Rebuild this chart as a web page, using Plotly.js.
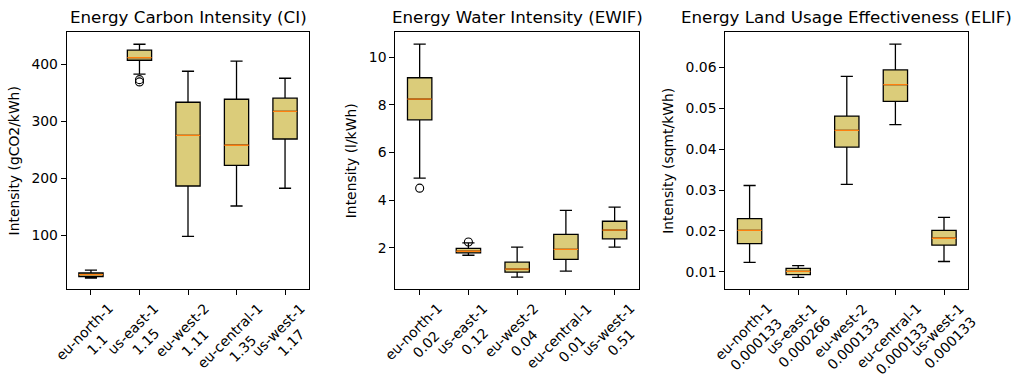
<!DOCTYPE html>
<html>
<head>
<meta charset="utf-8">
<script src="https://cdn.plot.ly/plotly-3.0.1.min.js"></script>
<style>html,body{margin:0;padding:0;background:#fff;}#chart{width:1021px;height:390px;}</style>
</head>
<body>
<div id="chart"></div>
<script>
// ---- data ----
const regions = ['eu-north-1', 'us-east-1', 'eu-west-2', 'eu-central-1', 'us-west-1'];
const ciFactors = ['1.1', '1.15', '1.11', '1.35', '1.17'];
const ewifFactors = ['0.02', '0.12', '0.04', '0.01', '0.51'];
const elifFactors = ['0.000133', '0.000266', '0.000133', '0.000133', '0.000133'];

const ciLower = [25.1, 382.5, 98.2, 151.4, 182.5];
const ciQ1 = [27.4, 407.0, 186.5, 222.8, 268.9];
const ciMedian = [30.9, 411.6, 275.4, 257.9, 317.5];
const ciQ3 = [33.9, 424.6, 333.3, 338.6, 340.4];
const ciUpper = [39.1, 435.0, 387.7, 405.3, 375.4];
const ciOutRegion = ['us-east-1', 'us-east-1'];
const ciOutValue = [373, 369];

const ewifLower = [4.92, 1.68, 0.76, 1.01, 2.02];
const ewifQ1 = [7.37, 1.78, 0.97, 1.51, 2.37];
const ewifMedian = [8.24, 1.85, 1.10, 1.93, 2.74];
const ewifQ3 = [9.14, 1.97, 1.39, 2.56, 3.11];
const ewifUpper = [10.55, 2.20, 2.02, 3.57, 3.70];
const ewifOutRegion = ['eu-north-1', 'us-east-1'];
const ewifOutValue = [4.50, 2.24];

const elifLower = [0.0123, 0.0086, 0.0314, 0.0460, 0.0125];
const elifQ1 = [0.0169, 0.0093, 0.0405, 0.0517, 0.0165];
const elifMedian = [0.0201, 0.0101, 0.0446, 0.0558, 0.0182];
const elifQ3 = [0.0230, 0.0108, 0.0481, 0.0594, 0.0201];
const elifUpper = [0.0311, 0.0115, 0.0578, 0.0657, 0.0233];
const elifOutRegion = [];
const elifOutValue = [];

// ---- build ----
const FONT = 'DejaVu Sans, sans-serif';
const BOXW = 0.5;
const pos = regions.map((_, i) => i + 1);
const posOf = r => regions.indexOf(r) + 1;

const panels = [
  {ax: '', title: 'Energy Carbon Intensity (CI)', ytitle: 'Intensity (gCO2/kWh)', factors: ciFactors,
   lo: ciLower, q1: ciQ1, med: ciMedian, q3: ciQ3, up: ciUpper, outR: ciOutRegion, outV: ciOutValue,
   range: [5.3, 456], tickvals: [100, 200, 300, 400], fmt: '', dom: [66.7, 309.3]},
  {ax: '2', title: 'Energy Water Intensity (EWIF)', ytitle: 'Intensity (l/kWh)', factors: ewifFactors,
   lo: ewifLower, q1: ewifQ1, med: ewifMedian, q3: ewifQ3, up: ewifUpper, outR: ewifOutRegion, outV: ewifOutValue,
   range: [0.25, 11.05], tickvals: [2, 4, 6, 8, 10], fmt: '', dom: [395.3, 639]},
  {ax: '3', title: 'Energy Land Usage Effectiveness (ELIF)', ytitle: 'Intensity (sqmt/kWh)', factors: elifFactors,
   lo: elifLower, q1: elifQ1, med: elifMedian, q3: elifQ3, up: elifUpper, outR: elifOutRegion, outV: elifOutValue,
   range: [0.0057, 0.0686], tickvals: [0.01, 0.02, 0.03, 0.04, 0.05, 0.06], fmt: '.2f', dom: [725.3, 968.3]}
];

const W = 1021, H = 390;
const yDom = [1 - 289.3 / H, 1 - 32.3 / H];
const traces = [];
const annotations = [];
const layout = {
  width: W, height: H,
  margin: {l: 0, r: 0, t: 0, b: 0},
  paper_bgcolor: '#ffffff', plot_bgcolor: '#ffffff',
  showlegend: false,
  font: {family: FONT, size: 13.9, color: '#000'},
  annotations: annotations
};

panels.forEach(p => {
  const xa = 'x' + p.ax, ya = 'y' + p.ax;
  traces.push({
    type: 'box', xaxis: xa, yaxis: ya,
    x: pos, q1: p.q1, median: p.med, q3: p.q3, lowerfence: p.lo, upperfence: p.up,
    width: BOXW, whiskerwidth: 0.5, boxpoints: false,
    fillcolor: '#dbcc7a', line: {color: '#000000', width: 1.3},
    hoverinfo: 'skip'
  });
  // orange median lines
  const mx = [], my = [];
  pos.forEach((x, i) => { mx.push(x - BOXW / 2, x + BOXW / 2, null); my.push(p.med[i], p.med[i], null); });
  traces.push({type: 'scatter', mode: 'lines', xaxis: xa, yaxis: ya, x: mx, y: my,
    line: {color: '#ff7f0e', width: 1.3}, hoverinfo: 'skip'});
  // outliers
  if (p.outV.length) {
    traces.push({type: 'scatter', mode: 'markers', xaxis: xa, yaxis: ya,
      x: p.outR.map(posOf), y: p.outV,
      marker: {symbol: 'circle-open', size: 8, color: '#000', line: {width: 1.1, color: '#000'}},
      hoverinfo: 'skip'});
  }
  layout['xaxis' + p.ax] = {
    domain: [p.dom[0] / W, p.dom[1] / W], anchor: ya, range: [0.5, 5.5],
    tickvals: pos, showticklabels: false, ticks: 'outside', ticklen: 5, tickwidth: 1, tickcolor: '#000',
    showline: true, mirror: true, linecolor: '#000', linewidth: 1, showgrid: false, zeroline: false
  };
  layout['yaxis' + p.ax] = {
    domain: yDom, anchor: xa, range: p.range, tickvals: p.tickvals, tickformat: p.fmt,
    ticks: 'outside', ticklen: 5, tickwidth: 1, tickcolor: '#000',
    tickfont: {family: FONT, size: 13.9, color: '#000'},
    showline: true, mirror: true, linecolor: '#000', linewidth: 1, showgrid: false, zeroline: false,
    title: {text: p.ytitle, font: {family: FONT, size: 13.9, color: '#000'}, standoff: 8}
  };
  // subplot title
  annotations.push({
    text: p.title, xref: xa + ' domain', yref: ya + ' domain', x: 0.5, y: 1,
    xanchor: 'center', yanchor: 'bottom', yshift: 3, showarrow: false,
    font: {family: FONT, size: 16.7, color: '#000'}
  });
  // rotated two-line category labels
  regions.forEach((r, i) => {
    annotations.push({
      text: r + '<br>' + p.factors[i], xref: xa, yref: ya + ' domain', x: pos[i], y: 0,
      xanchor: 'center', yanchor: 'top', yshift: -8, textangle: -45, align: 'center',
      showarrow: false, font: {family: FONT, size: 13.9, color: '#000'}
    });
  });
});

Plotly.newPlot('chart', traces, layout, {displayModeBar: false, staticPlot: true});
</script>
</body>
</html>
